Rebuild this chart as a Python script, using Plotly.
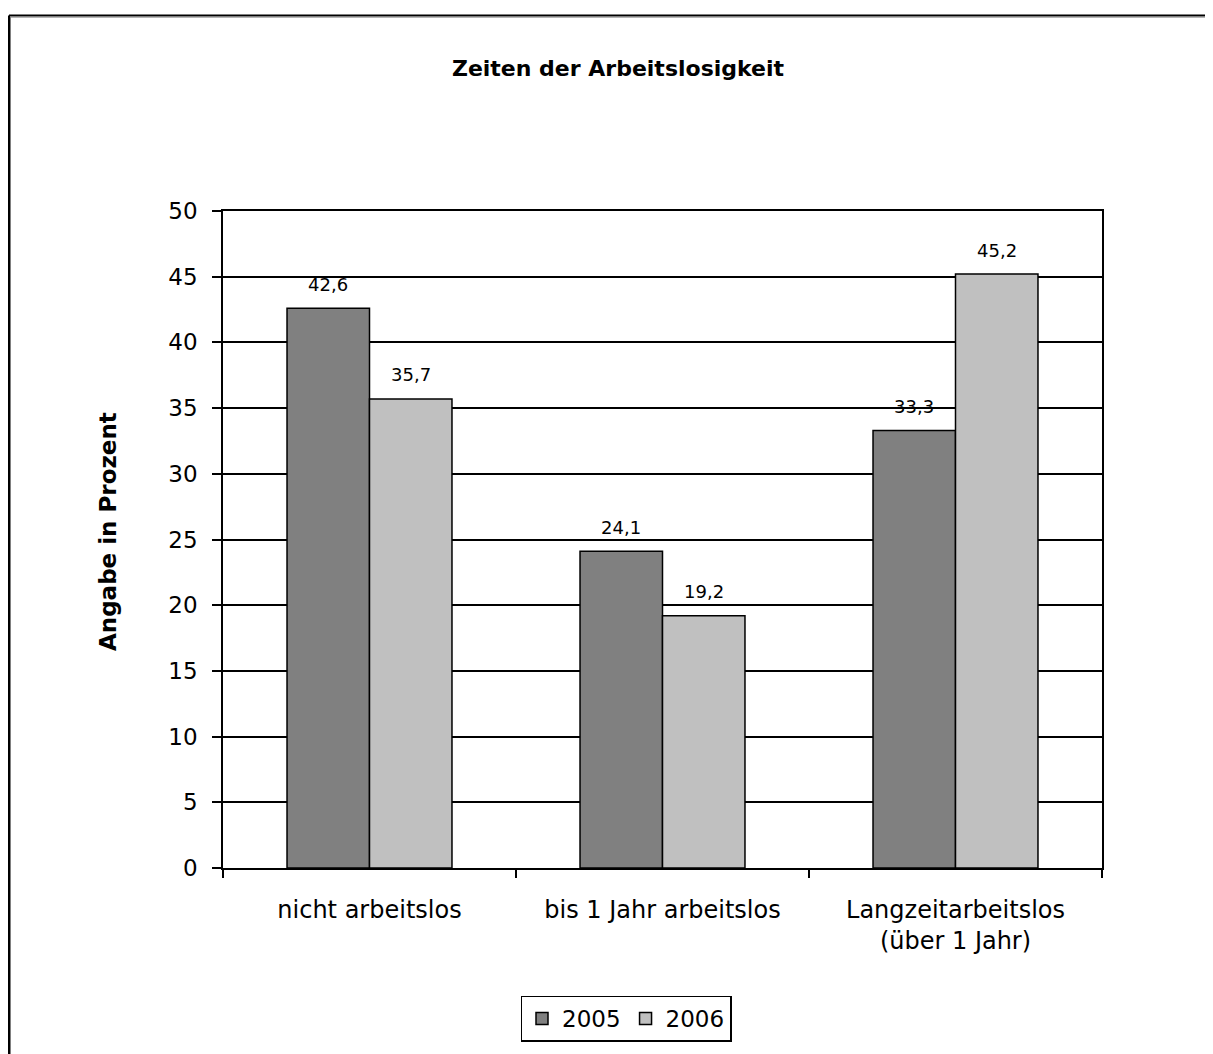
import plotly.graph_objects as go

categories = ["nicht arbeitslos", "bis 1 Jahr arbeitslos", "Langzeitarbeitslos<br>(über 1 Jahr)"]
series_names = ["2005", "2006"]
values_2005 = [42.6, 24.1, 33.3]
values_2006 = [35.7, 19.2, 45.2]
y_ticks = [0, 5, 10, 15, 20, 25, 30, 35, 40, 45, 50]

# page is rendered with an 8px body margin; work in page pixels and convert
OFF = 8
W, H = 1213 - OFF, 1054 - OFF
L, R, T, B = 223 - OFF, 1102 - OFF, 211 - OFF, 870 - OFF
PW, PH = R - L, B - T

def px_x(p):
    return (p - OFF - L) / PW

def px_y(p):
    return (B - (p - OFF)) / PH

FONT = "DejaVu Sans, Verdana, sans-serif"
colors = ["#808080", "#C0C0C0"]

fig = go.Figure()
for name, vals, col in zip(series_names, [values_2005, values_2006], colors):
    fig.add_trace(go.Bar(
        name=name, x=categories, y=vals,
        marker=dict(color=col, line=dict(color="black", width=1.5)),
    ))

annotations = []
BARGAP = 0.437
bar_px = PW / 3 * (1 - BARGAP) / 2
for i, vals in enumerate([values_2005, values_2006]):
    shift = (-0.5 + i) * bar_px
    for c, v in zip(categories, vals):
        annotations.append(dict(
            x=c, y=v, xref="x", yref="y", text=f"{v:.1f}".replace(".", ","),
            showarrow=False, xshift=shift, yshift=24, yanchor="middle",
            font=dict(family=FONT, size=18, color="black"),
        ))

annotations.append(dict(
    x=px_x(93), y=px_y(533), xref="paper", yref="paper",
    text="<b>Angabe in Prozent</b>", textangle=-90, showarrow=False,
    font=dict(family=FONT, size=23, color="black"),
))

shapes = [
    dict(type="line", xref="paper", yref="paper", x0=px_x(9), y0=px_y(15), x1=px_x(1230), y1=px_y(15),
         line=dict(color="black", width=2)),
    dict(type="line", xref="paper", yref="paper", x0=px_x(9), y0=px_y(15), x1=px_x(9), y1=px_y(1070),
         line=dict(color="black", width=2)),
    dict(type="line", xref="paper", yref="paper", x0=px_x(10), y0=px_y(16.5), x1=px_x(1230), y1=px_y(16.5),
         line=dict(color="#808080", width=1)),
    dict(type="line", xref="paper", yref="paper", x0=px_x(10.5), y0=px_y(16), x1=px_x(10.5), y1=px_y(1070),
         line=dict(color="#808080", width=1)),
]

fig.update_layout(
    width=W, height=H,
    margin=dict(l=L, r=W - R, t=T, b=H - B, pad=0),
    paper_bgcolor="white", plot_bgcolor="white",
    barmode="group", bargap=BARGAP, bargroupgap=0,
    separators=",.",
    font=dict(family=FONT, size=23, color="black"),
    title=dict(text="<b>Zeiten der Arbeitslosigkeit</b>", x=(618 - OFF) / W, xanchor="center",
               y=1 - (68 - OFF) / H, yanchor="middle", xref="container", yref="container",
               font=dict(family=FONT, size=22, color="black")),
    xaxis=dict(
        showline=True, linecolor="black", linewidth=1.5, mirror=True,
        ticks="outside", tickson="boundaries", ticklen=8, tickcolor="black", tickwidth=1.5,
        tickfont=dict(family=FONT, size=24, color="black"),
        ticklabelstandoff=19,
        showgrid=False,
    ),
    yaxis=dict(
        range=[0, 50], tickvals=y_ticks, showline=True, linecolor="black", linewidth=1.5, mirror=True,
        ticks="outside", ticklen=9, tickcolor="black", tickwidth=1.5,
        showgrid=True, gridcolor="black", gridwidth=1.5, zeroline=False,
        tickfont=dict(family=FONT, size=23, color="black"),
        ticklabelstandoff=10,
    ),
    legend=dict(
        orientation="h", x=px_x(626), y=px_y(1021), xanchor="center", yanchor="middle",
        bordercolor="black", borderwidth=1.5, bgcolor="white",
        font=dict(family=FONT, size=23, color="black"),
        itemwidth=30, tracegroupgap=0,
    ),
    annotations=annotations, shapes=shapes,
)

fig.write_html("out.html")
